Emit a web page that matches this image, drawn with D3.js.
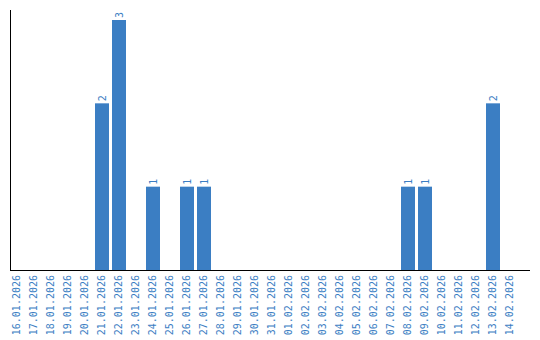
<html>
<script src="https://d3js.org/d3.v7.min.js"></script>
<body style="margin:0">
<svg></svg>
<script>
const dates = ["16.01.2026","17.01.2026","18.01.2026","19.01.2026","20.01.2026","21.01.2026","22.01.2026","23.01.2026","24.01.2026","25.01.2026","26.01.2026","27.01.2026","28.01.2026","29.01.2026","30.01.2026","31.01.2026","01.02.2026","02.02.2026","03.02.2026","04.02.2026","05.02.2026","06.02.2026","07.02.2026","08.02.2026","09.02.2026","10.02.2026","11.02.2026","12.02.2026","13.02.2026","14.02.2026"];
const counts = [0,0,0,0,0,2,3,0,1,0,1,1,0,0,0,0,0,0,0,0,0,0,0,1,1,0,0,0,2,0];

const width = 540, height = 340;
const blue = "#3b7ec3";
const font = "'DejaVu Sans Mono', monospace";

const svg = d3.select("svg").attr("width", width).attr("height", height);

const x = d3.scaleBand().domain(dates).range([8.5, 518.5]).paddingInner(3 / 17).paddingOuter(1.5 / 17);
const y = d3.scaleLinear().domain([0, 3]).range([270, 20]);

const rows = dates.map((d, i) => ({date: d, v: counts[i]})).filter(d => d.v > 0);

// bars
svg.append("g").selectAll("rect")
    .data(rows)
    .enter().append("rect")
    .attr("x", d => x(d.date))
    .attr("y", d => y(d.v))
    .attr("width", x.bandwidth())
    .attr("height", d => y(0) - y(d.v))
    .attr("fill", blue);

// value labels
svg.append("g").selectAll("text")
    .data(rows)
    .enter().append("text")
    .attr("transform", d => `translate(${x(d.date) + x.bandwidth() / 2 + 3.5},${y(d.v) - 2}) rotate(-90)`)
    .attr("font-family", font)
    .attr("font-size", 10)
    .attr("fill", blue)
    .text(d => d.v);

// axes
const xAxis = svg.append("g")
    .attr("transform", "translate(0,270)")
    .call(d3.axisBottom(x).tickSize(0).tickPadding(0));
xAxis.select(".domain").remove();
xAxis.selectAll("text")
    .attr("font-family", font)
    .attr("font-size", 10)
    .attr("fill", blue)
    .attr("text-anchor", "end")
    .attr("dy", null)
    .attr("transform", "translate(3,5) rotate(-90)")
    .attr("y", 0);

svg.append("line").attr("x1", 10.5).attr("x2", 10.5).attr("y1", 10).attr("y2", 270).attr("stroke", "#000");
svg.append("line").attr("x1", 10).attr("x2", 530).attr("y1", 270.5).attr("y2", 270.5).attr("stroke", "#000");
</script>
</body>
</html>
